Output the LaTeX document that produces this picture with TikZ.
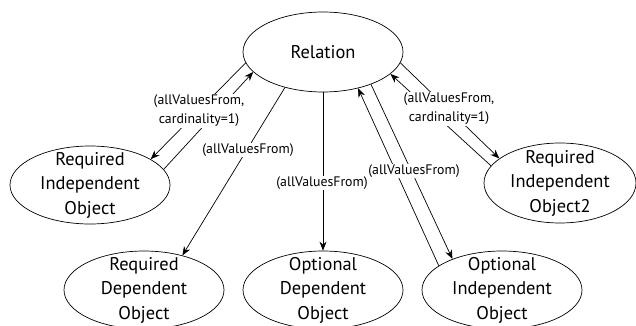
\documentclass[tikz,border=0pt]{standalone}
\usepackage{fontspec}
\setmainfont{PT Sans}
\usetikzlibrary{shapes.geometric,arrows.meta}
\begin{document}
\begin{tikzpicture}[x=1pt,y=-1pt,
  obj/.style={ellipse,draw,line width=0.7pt,minimum width=160pt,minimum height=78pt,inner sep=0pt},
  objtext/.style={align=center,inner sep=0pt,font=\fontsize{18.4}{24.5}\selectfont},
  lbl/.style={fill=white,inner sep=1pt,align=center,font=\fontsize{13.8}{19}\selectfont},
  link/.style={line width=0.7pt,-{Stealth[length=9pt,width=7pt]}}]
\useasboundingbox (0,0) rectangle (636,326);

% classes
\node[obj,minimum height=80pt,label={[objtext]center:Relation}] (rel) at (323,52) {};
\node[obj,label={[objtext]center:Required\\Independent\\Object}] (rio) at (90,185) {};
\node[obj,minimum width=152pt,minimum height=80pt,label={[objtext]center:Required\\Independent\\Object2}] (rio2) at (560,183) {};
\node[obj,label={[objtext]center:Required\\Dependent\\Object}] (rdo) at (144,290) {};
\node[obj,label={[objtext]center:Optional\\Dependent\\Object}] (odo) at (323,290) {};
\node[obj,label={[objtext]center:Optional\\Independent\\Object}] (oio) at (502,290) {};

% property links
\draw[link] (rel.188) -- (rio.23);
\draw[link] (rio.12) -- (rel.196);
\draw[link] (rel.223) -- (rdo.42);
\draw[link] (rel.south) -- (odo.north);
\draw[link] (oio.159) -- (rel.314);
\draw[link] (rel.326) -- (oio.148);
\draw[link] (rio2.166) -- (rel.342);
\draw[link] (rel.352) -- (rio2.158);

% restriction labels
\node[lbl] (l1) at (199,111) {(allValuesFrom,\\cardinality=1)};
\node[lbl] (l2) at (248,150) {(allValuesFrom)};
\node[lbl] (l3) at (322,183) {(allValuesFrom)};
\node[lbl] (l4) at (414,171) {(allValuesFrom)};
\node[lbl] (l5) at (449,109) {(allValuesFrom,\\cardinality=1)};
\end{tikzpicture}
\end{document}
